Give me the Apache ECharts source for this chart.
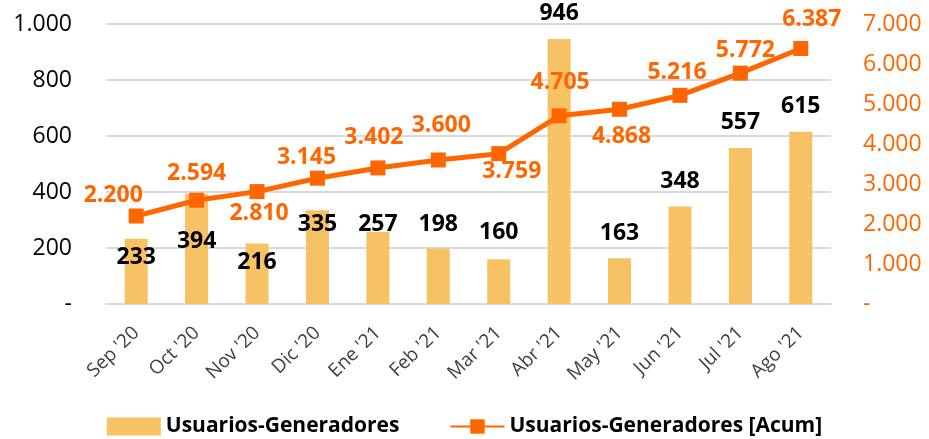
<!DOCTYPE html>
<html>
<head>
<meta charset="utf-8">
<script src="https://cdn.jsdelivr.net/npm/echarts@6/dist/echarts.min.js"></script>
<style>
  html, body { margin: 0; padding: 0; background: #fff; }
  #chart { width: 929px; height: 439px; }
</style>
</head>
<body>
<div id="chart"></div>
<script>
const months = ["Sep '20", "Oct '20", "Nov '20", "Dic '20", "Ene '21", "Feb '21",
                "Mar '21", "Abr '21", "May '21", "Jun '21", "Jul '21", "Ago '21"]
const usuarios = [233, 394, 216, 335, 257, 198, 160, 946, 163, 348, 557, 615]
const acumulado = [2200, 2594, 2810, 3145, 3402, 3600, 3759, 4705, 4868, 5216, 5772, 6387]

// label nudges so they sit where the original put them
const barShift = [30, 59, 30, 26, 4, -13, -15, -14, -13, -14, -14, -14]
const lineShift = [[-23, -21], [0, -27], [2, 22], [-11, -21], [-4, -30], [3, -35],
                   [13, 18], [1, -33], [2, 27], [-3, -23], [5, -23], [11, -29]]

const FONT = "'Open Sans', 'Noto Sans', sans-serif"
const BAR = '#F6C264'
const LINE = '#FF6600'

const fmt = v => v === 0 ? '-' : v.toLocaleString('de-DE')

const chart = echarts.init(document.getElementById('chart'))

const option = {
  animation: false,
  textStyle: { fontFamily: FONT },
  grid: { left: 106, right: 98, top: 24, bottom: 135 },
  legend: {
    bottom: -3,
    left: 'center',
    itemGap: 50,
    itemWidth: 54,
    itemHeight: 18,
    textStyle: { fontFamily: FONT, fontSize: 21, fontWeight: 'bold', color: '#000' },
    data: [
      { name: 'Usuarios-Generadores', icon: 'rect' },
      { name: 'Usuarios-Generadores [Acum]' }
    ]
  },
  xAxis: {
    type: 'category',
    data: months,
    axisTick: { show: false },
    axisLine: { lineStyle: { color: '#d9d9d9', width: 2 } },
    axisLabel: { rotate: 44, margin: 26, fontSize: 19, color: '#404040', fontFamily: FONT, interval: 0 }
  },
  yAxis: [
    {
      type: 'value', min: 0, max: 1000, interval: 200,
      axisLabel: { formatter: fmt, fontSize: 23, color: '#000', margin: 34, fontFamily: FONT },
      splitLine: { lineStyle: { color: '#d9d9d9', width: 2 } }
    },
    {
      type: 'value', min: 0, max: 7000, interval: 1000, position: 'right',
      axisLabel: { formatter: fmt, fontSize: 23, color: LINE, margin: 32, fontFamily: FONT },
      splitLine: { show: false }
    }
  ],
  series: [
    {
      name: 'Usuarios-Generadores',
      type: 'bar',
      barWidth: 23,
      itemStyle: { color: BAR },
      data: usuarios.map((v, i) => ({
        value: v,
        label: { offset: [0, barShift[i]] }
      })),
      label: {
        show: true, position: 'top', distance: 0,
        fontSize: 23, fontWeight: 'bold', color: '#000', fontFamily: FONT,
        formatter: p => fmt(p.value)
      },
      z: 1
    },
    {
      name: 'Usuarios-Generadores [Acum]',
      type: 'line',
      yAxisIndex: 1,
      symbol: 'rect',
      symbolSize: 15,
      lineStyle: { color: LINE, width: 5 },
      itemStyle: { color: LINE },
      data: acumulado.map((v, i) => ({
        value: v,
        label: { offset: lineShift[i] }
      })),
      label: {
        show: true, position: 'inside',
        fontSize: 23, fontWeight: 'bold', color: LINE, fontFamily: FONT,
        formatter: p => fmt(p.value)
      },
      z: 3
    }
  ]
}

chart.setOption(option)
</script>
</body>
</html>
